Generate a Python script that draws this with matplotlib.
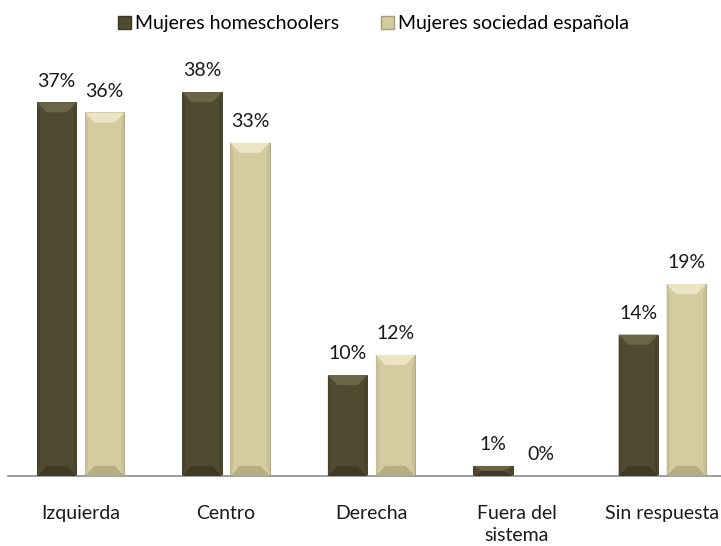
import matplotlib.pyplot as plt
from matplotlib.patches import Patch, Polygon

plt.rcParams['font.family'] = ['Lato', 'DejaVu Sans']

categorias = ['Izquierda', 'Centro', 'Derecha', 'Fuera del\nsistema', 'Sin respuesta']
homeschoolers = [37, 38, 10, 1, 14]
sociedad = [36, 33, 12, 0, 19]
series = ['Mujeres homeschoolers', 'Mujeres sociedad española']

oscuro = '#4f4a30'
claro = '#d3cca0'
tonos = {
    oscuro: ('#6b6548', '#3e3a24', '#47432b'),
    claro: ('#ebe5c3', '#b5ae85', '#c6bf93'),
}

fig = plt.figure(figsize=(7.21, 5.46), dpi=100)
ax = fig.add_axes([8 / 721, 70 / 546, 727 / 721, 404 / 546])

x = range(len(categorias))
ancho = 0.27
desp = 0.165
fs = 14


def biselar(rects, color):
    # caras inclinadas en la parte superior, laterales e inferior de cada barra
    top, bottom, side = tonos[color]
    for r in rects:
        x0, y0 = r.get_x(), r.get_y()
        w, h = r.get_width(), r.get_height()
        if h <= 0:
            continue
        bx = 0.065
        by = min(1.0, h / 2)
        x1 = x0 + w
        y1 = y0 + h
        ax.add_patch(Polygon([(x0, y1), (x1, y1), (x1 - bx, y1 - by), (x0 + bx, y1 - by)],
                             closed=True, facecolor=top, edgecolor='none', zorder=3))
        ax.add_patch(Polygon([(x0, y0), (x1, y0), (x1 - bx, y0 + by), (x0 + bx, y0 + by)],
                             closed=True, facecolor=bottom, edgecolor='none', zorder=3))
        ax.add_patch(Polygon([(x0, y0), (x0 + bx * 0.3, y0 + by), (x0 + bx * 0.3, y1 - by), (x0, y1)],
                             closed=True, facecolor=side, edgecolor='none', zorder=3))
        ax.add_patch(Polygon([(x1, y0), (x1 - bx * 0.3, y0 + by), (x1 - bx * 0.3, y1 - by), (x1, y1)],
                             closed=True, facecolor=side, edgecolor='none', zorder=3))


b1 = ax.bar([i - desp for i in x], homeschoolers, ancho, color=oscuro,
            edgecolor='#3a3622', linewidth=0.6, zorder=2)
b2 = ax.bar([i + desp for i in x], sociedad, ancho, color=claro,
            edgecolor='#a39d78', linewidth=0.6, zorder=2)
biselar(b1, oscuro)
biselar(b2, claro)

for rects, vals in ((b1, homeschoolers), (b2, sociedad)):
    for r, v in zip(rects, vals):
        ax.text(r.get_x() + r.get_width() / 2, v + 2.1, f'{v}%',
                ha='center', va='center', fontsize=fs, color='#1a1a1a')

ax.set_xlim(-0.5, 4.5)
ax.set_ylim(0, 40)
ax.set_xticks(list(x))
ax.set_xticklabels(categorias, fontsize=fs, color='#1a1a1a', linespacing=1.35)
ax.tick_params(axis='x', length=0, pad=21)
ax.set_yticks([])
for s in ['top', 'right', 'left']:
    ax.spines[s].set_visible(False)
ax.spines['bottom'].set_color('#8c8c8c')
ax.spines['bottom'].set_linewidth(1.2)

handles = [Patch(facecolor=oscuro, edgecolor='#3a3622'),
           Patch(facecolor=claro, edgecolor='#a39d78')]
fig.legend(handles, series, loc='center', bbox_to_anchor=(0.518, 1 - 24 / 546),
           ncol=2, frameon=False, fontsize=fs, handlelength=0.65, handleheight=0.65,
           handletextpad=0.2, columnspacing=2.2)

fig.savefig('out.png', dpi=100)
